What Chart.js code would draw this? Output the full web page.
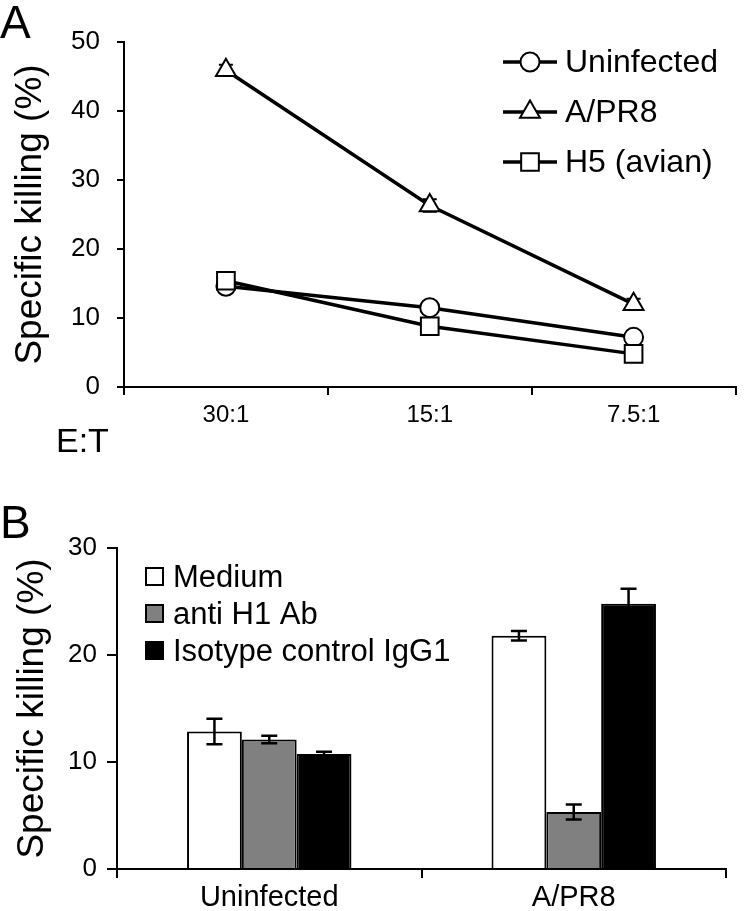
<!DOCTYPE html>
<html>
<head>
<meta charset="utf-8">
<script src="https://cdn.jsdelivr.net/npm/chart.js@4.4.1/dist/chart.umd.min.js"></script>
<style>
  html, body { margin: 0; padding: 0; background: #fff; }
  body { width: 750px; height: 911px; position: relative; overflow: hidden; }
  canvas { position: absolute; left: 0; }
  #cA { top: 0; }
  #cB { top: 460px; }
</style>
</head>
<body>
<canvas id="cA" width="750" height="460"></canvas>
<canvas id="cB" width="750" height="451"></canvas>
<script>
// ---------- Panel A data ----------
const ratioLabels = ['30:1', '15:1', '7.5:1'];
const uninfectedKill = [14.6, 11.5, 7.2];
const apr8Kill = [45.9, 26.3, 12.0];
const apr8Err = [0.8, 0.9, 0.8];
const h5Kill = [15.4, 8.8, 4.8];
const seriesANames = ['Uninfected', 'A/PR8', 'H5 (avian)'];
const yTicksA = [0, 10, 20, 30, 40, 50];

// ---------- Panel B data ----------
const groupLabels = ['Uninfected', 'A/PR8'];
const mediumKill = [12.85, 21.8];
const mediumErr = [1.2, 0.45];
const antiH1Kill = [12.1, 5.33];
const antiH1Err = [0.35, 0.7];
const isotypeKill = [10.75, 24.8];
const isotypeErr = [0.2, 1.4];
const seriesBNames = ['Medium', 'anti H1 Ab', 'Isotype control IgG1'];
const yTicksB = [0, 10, 20, 30];

const FONT = "'Liberation Sans', Arial, Helvetica, sans-serif";

// ---------- Panel A ----------
const legendAPlugin = {
  id: 'legendA',
  afterDraw(chart) {
    const ctx = chart.ctx;
    ctx.save();
    ctx.fillStyle = '#000';
    ctx.textBaseline = 'alphabetic';
    ctx.textAlign = 'left';
    ctx.font = '46px ' + FONT;
    ctx.fillText('A', 0, 38);
    ctx.font = '34px ' + FONT;
    ctx.fillText('E:T', 56, 452);
    chart.data.datasets.forEach((ds, i) => {
      const y = 62 + 50 * i;
      ctx.strokeStyle = '#000';
      ctx.lineWidth = 3.5;
      ctx.beginPath();
      ctx.moveTo(503, y);
      ctx.lineTo(557, y);
      ctx.stroke();
      ctx.fillStyle = '#fff';
      ctx.lineWidth = 2;
      Chart.helpers.drawPoint(ctx, {pointStyle: ds.pointStyle, radius: ds.pointRadius, borderWidth: 2, rotation: 0}, 530, y);
      ctx.fillStyle = '#000';
      ctx.font = '32px ' + FONT;
      ctx.textBaseline = 'middle';
      ctx.fillText(ds.label, 565, y + 1);
    });
    ctx.restore();
  }
};

const lineErrPlugin = {
  id: 'lineErr',
  beforeDatasetsDraw(chart) {
    const ctx = chart.ctx;
    const yScale = chart.scales.y;
    chart.data.datasets.forEach((ds, i) => {
      if (!ds.errors) return;
      const meta = chart.getDatasetMeta(i);
      meta.data.forEach((pt, j) => {
        const v = ds.data[j], e = ds.errors[j];
        const yt = yScale.getPixelForValue(v + e);
        const yb = yScale.getPixelForValue(v - e);
        ctx.save();
        ctx.strokeStyle = '#000';
        ctx.lineWidth = 2;
        ctx.beginPath();
        ctx.moveTo(pt.x, yt); ctx.lineTo(pt.x, yb);
        ctx.moveTo(pt.x - 7, yt); ctx.lineTo(pt.x + 7, yt);
        ctx.moveTo(pt.x - 7, yb); ctx.lineTo(pt.x + 7, yb);
        ctx.stroke();
        ctx.restore();
      });
    });
  }
};

new Chart(document.getElementById('cA'), {
  type: 'line',
  data: {
    labels: ratioLabels,
    datasets: [
      { label: seriesANames[0], data: uninfectedKill, pointStyle: 'circle', pointRadius: 9.5, order: 2 },
      { label: seriesANames[1], data: apr8Kill, errors: apr8Err, pointStyle: 'triangle', pointRadius: 11.5, order: 1 },
      { label: seriesANames[2], data: h5Kill, pointStyle: 'rect', pointRadius: 12.5, order: 0 }
    ].map(d => Object.assign({
      borderColor: '#000', borderWidth: 3.5, backgroundColor: '#fff',
      pointBackgroundColor: '#fff', pointBorderColor: '#000', pointBorderWidth: 2,
      tension: 0, fill: false
    }, d))
  },
  options: {
    responsive: false, animation: false, devicePixelRatio: 1,
    layout: { padding: { top: 42, right: 2, left: 0, bottom: 0 } },
    plugins: { legend: { display: false }, tooltip: { enabled: false } },
    scales: {
      x: {
        type: 'category', offset: true,
        grid: { offset: true, drawOnChartArea: false, drawTicks: true, tickLength: 8, color: '#000', lineWidth: 2 },
        border: { display: true, color: '#000', width: 2 },
        ticks: { color: '#000', font: { family: FONT, size: 24 }, padding: 6, maxRotation: 0 },
        afterFit(s) { s.height = 73; }
      },
      y: {
        min: 0, max: 50,
        afterBuildTicks(s) { s.ticks = yTicksA.map(v => ({ value: v })); },
        grid: { drawOnChartArea: false, drawTicks: true, tickLength: 7, color: '#000', lineWidth: 2 },
        border: { display: true, color: '#000', width: 2 },
        ticks: { color: '#000', font: { family: FONT, size: 26 }, padding: 17 },
        title: { display: true, text: 'Specific killing (%)', color: '#000', font: { family: FONT, size: 37 }, padding: { top: 9, bottom: 0 } },
        afterFit(s) { s.width = 124; }
      }
    }
  },
  plugins: [lineErrPlugin, legendAPlugin]
});

// ---------- Panel B ----------
const barErrPlugin = {
  id: 'barErr',
  afterDatasetsDraw(chart) {
    const ctx = chart.ctx;
    const yScale = chart.scales.y;
    chart.data.datasets.forEach((ds, i) => {
      const meta = chart.getDatasetMeta(i);
      meta.data.forEach((bar, j) => {
        const v = ds.data[j], e = ds.errors[j];
        const yt = yScale.getPixelForValue(v + e);
        const yb = yScale.getPixelForValue(v - e);
        ctx.save();
        ctx.strokeStyle = '#000';
        ctx.lineWidth = 2.5;
        ctx.beginPath();
        ctx.moveTo(bar.x, yt); ctx.lineTo(bar.x, yb);
        ctx.moveTo(bar.x - 8, yt); ctx.lineTo(bar.x + 8, yt);
        ctx.moveTo(bar.x - 8, yb); ctx.lineTo(bar.x + 8, yb);
        ctx.stroke();
        ctx.restore();
      });
    });
  }
};

const legendBPlugin = {
  id: 'legendB',
  afterDraw(chart) {
    const ctx = chart.ctx;
    ctx.save();
    ctx.fillStyle = '#000';
    ctx.textAlign = 'left';
    ctx.textBaseline = 'alphabetic';
    ctx.font = '46px ' + FONT;
    ctx.fillText('B', 0, 78);
    chart.data.datasets.forEach((ds, i) => {
      const y = 117 + 37 * i;
      ctx.fillStyle = ds.backgroundColor;
      ctx.fillRect(146, y - 9, 17, 17);
      ctx.strokeStyle = '#000';
      ctx.lineWidth = 2;
      ctx.strokeRect(146, y - 9, 17, 17);
      ctx.fillStyle = '#000';
      ctx.font = '31px ' + FONT;
      ctx.textBaseline = 'middle';
      ctx.fillText(ds.label, 173, y + 1);
    });
    ctx.restore();
  }
};

new Chart(document.getElementById('cB'), {
  type: 'bar',
  data: {
    labels: groupLabels,
    datasets: [
      { label: seriesBNames[0], data: mediumKill, errors: mediumErr, backgroundColor: '#ffffff' },
      { label: seriesBNames[1], data: antiH1Kill, errors: antiH1Err, backgroundColor: '#808080' },
      { label: seriesBNames[2], data: isotypeKill, errors: isotypeErr, backgroundColor: '#000000' }
    ].map(d => Object.assign({ borderColor: '#000', borderWidth: 2, borderSkipped: 'start', categoryPercentage: 0.54, barPercentage: 1.0 }, d))
  },
  options: {
    responsive: false, animation: false, devicePixelRatio: 1,
    layout: { padding: { top: 88, right: 24, left: 0, bottom: 0 } },
    plugins: { legend: { display: false }, tooltip: { enabled: false } },
    scales: {
      x: {
        grid: { offset: true, drawOnChartArea: false, drawTicks: true, tickLength: 9, color: '#000', lineWidth: 2 },
        border: { display: true, color: '#000', width: 2 },
        ticks: { color: '#000', font: { family: FONT, size: 29 }, padding: 3, maxRotation: 0 },
        afterFit(s) { s.height = 42; }
      },
      y: {
        min: 0, max: 30,
        afterBuildTicks(s) { s.ticks = yTicksB.map(v => ({ value: v })); },
        grid: { drawOnChartArea: false, drawTicks: true, tickLength: 10, color: '#000', lineWidth: 2 },
        border: { display: true, color: '#000', width: 2 },
        ticks: { color: '#000', font: { family: FONT, size: 26 }, padding: 10 },
        title: { display: true, text: 'Specific killing (%)', color: '#000', font: { family: FONT, size: 37 }, padding: { top: 11, bottom: 0 } },
        afterFit(s) { s.width = 117; }
      }
    }
  },
  plugins: [barErrPlugin, legendBPlugin]
});
</script>
</body>
</html>
